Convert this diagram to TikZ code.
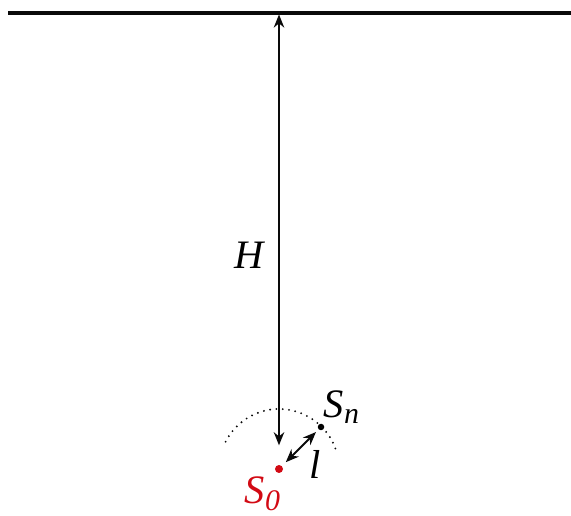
\documentclass[tikz,border=0pt]{standalone}
\usepackage{fontspec}
\setmainfont{Liberation Serif}
\usetikzlibrary{arrows.meta}
\definecolor{srcred}{RGB}{210, 10, 20}
\definecolor{mydark}{RGB}{10, 10, 10}
\newcommand{\bigit}{\fontsize{23}{25}\selectfont\itshape}

\begin{document}
\begin{tikzpicture}[x=0.02cm, y=-0.02cm,
    lbl/.style={inner sep=0pt, font=\bigit},
    dot/.style={circle, inner sep=0pt, minimum size=#1},
    both/.style={{Stealth[length=7.5pt, width=6pt]}-{Stealth[length=7.5pt, width=6pt]}}]
    % Canvas of the reference
    \useasboundingbox (0, 0) rectangle (571, 516);

    % ----------------------------------------------------
    % Surface line and depth
    % ----------------------------------------------------
    \draw[mydark, line width=1.8pt] (8, 13) -- (571, 13);
    \coordinate (surf) at (279, 14.5);

    \node[dot=0.16cm, fill=srcred] (S0) at (279, 469) {};
    \node[dot=0.13cm, fill=black] (Sn) at (321, 427) {};

    % Depth arrow
    \draw[both, line width=0.8pt, mydark, shorten >=11pt] (surf) -- (S0);
    \node[lbl] (H) at (249, 255) {H};

    % ----------------------------------------------------
    % Neighbourhood of the source
    % ----------------------------------------------------
    \draw[mydark, line width=1.2pt, line cap=round, dash pattern=on 0pt off 3.6pt]
        (S0) ++(-20:60) arc (-20:-154:60);

    \draw[both, line width=1.1pt, mydark, shorten <=3pt, shorten >=2pt] (S0) -- (Sn);

    \node[lbl] (l) at (315, 464) {l};
    \node[lbl, text=srcred] (S0lbl) at (263, 494) {S\textsubscript{\fontsize{17}{17}\selectfont 0}};
    \node[lbl] (Snlbl) at (342, 407) {S\textsubscript{\fontsize{17}{17}\selectfont n}};

\end{tikzpicture}
\end{document}
